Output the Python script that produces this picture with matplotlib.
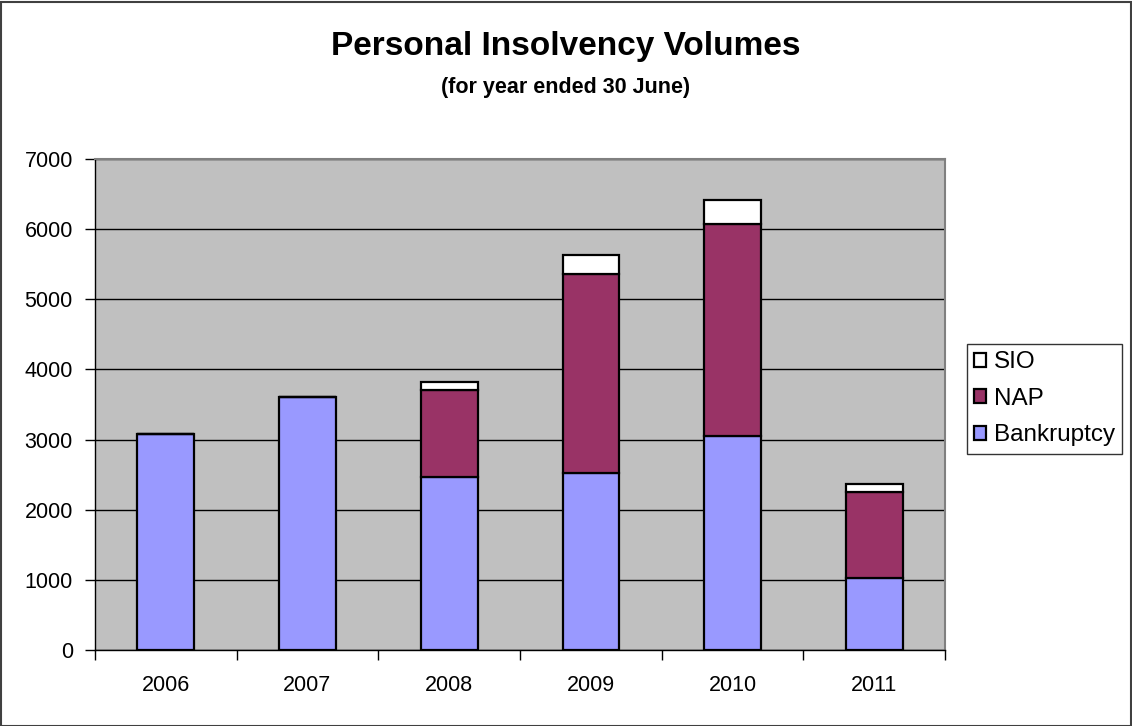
import numpy as np
import matplotlib
matplotlib.use("Agg")
import matplotlib.pyplot as plt
from matplotlib.patches import Rectangle

plt.rcParams['font.family'] = ['Liberation Sans', 'DejaVu Sans']

years = ['2006', '2007', '2008', '2009', '2010', '2011']
bankruptcy = [3080, 3600, 2470, 2530, 3050, 1030]
nap = [0, 0, 1240, 2830, 3020, 1220]
sio = [0, 0, 110, 270, 350, 110]

fig = plt.figure(figsize=(11.32, 7.26), dpi=100)
ax = fig.add_axes([95 / 1132, 1 - 650 / 726, 850 / 1132, 491 / 726])
ax.set_facecolor('#C0C0C0')

x = np.arange(len(years))
w = 0.4
bank = np.array(bankruptcy)
napv = np.array(nap)
siov = np.array(sio)

ax.bar(x, bank, w, color='#9999FF', edgecolor='black', linewidth=1.6, label='Bankruptcy', zorder=3)
ax.bar(x, napv, w, bottom=bank, color='#993366', edgecolor='black', linewidth=1.6, label='NAP', zorder=3)
ax.bar(x, siov, w, bottom=bank + napv, color='white', edgecolor='black', linewidth=1.6, label='SIO', zorder=3)

ax.set_xlim(-0.5, len(years) - 0.5)
ax.set_ylim(0, 7000)
ax.set_yticks(range(0, 7001, 1000))
ax.yaxis.grid(True, color='black', linewidth=1)
ax.set_axisbelow(True)

ax.set_xticks(x)
ax.set_xticklabels(years)
ax.set_xticks(np.arange(-0.5, len(years), 1), minor=True)
ax.tick_params(axis='x', which='major', length=0, pad=18, labelsize=15.5)
ax.tick_params(axis='x', which='minor', length=7, width=1, direction='out')
ax.tick_params(axis='y', length=7, width=1, direction='out', pad=9, labelsize=15.5)

for side in ['top', 'right']:
    ax.spines[side].set_color('#808080')
    ax.spines[side].set_linewidth(1.5)
for side in ['left', 'bottom']:
    ax.spines[side].set_color('black')
    ax.spines[side].set_linewidth(1)

fig.text(0.5, 1 - 46 / 726, 'Personal Insolvency Volumes', ha='center', va='center',
         fontsize=24, fontweight='bold')
fig.text(0.5, 1 - 87 / 726, '(for year ended 30 June)', ha='center', va='center',
         fontsize=15.5, fontweight='bold')

handles, labels = ax.get_legend_handles_labels()
leg = fig.legend(handles[::-1], labels[::-1], loc='upper left',
                 bbox_to_anchor=(967 / 1132, 1 - 344 / 726), fontsize=17.5,
                 frameon=True, fancybox=False, edgecolor='black',
                 handlelength=0.5, handleheight=0.5, handletextpad=0.3,
                 labelspacing=0.6, borderpad=0.3, borderaxespad=0)
leg.get_frame().set_linewidth(1)

fig.add_artist(Rectangle((0.5 / 1132, 0.5 / 726), 1 - 2 / 1132, 1 - 2 / 726,
                         transform=fig.transFigure, fill=False,
                         edgecolor='#404040', linewidth=1.5))

fig.savefig('out.png', dpi=100)
